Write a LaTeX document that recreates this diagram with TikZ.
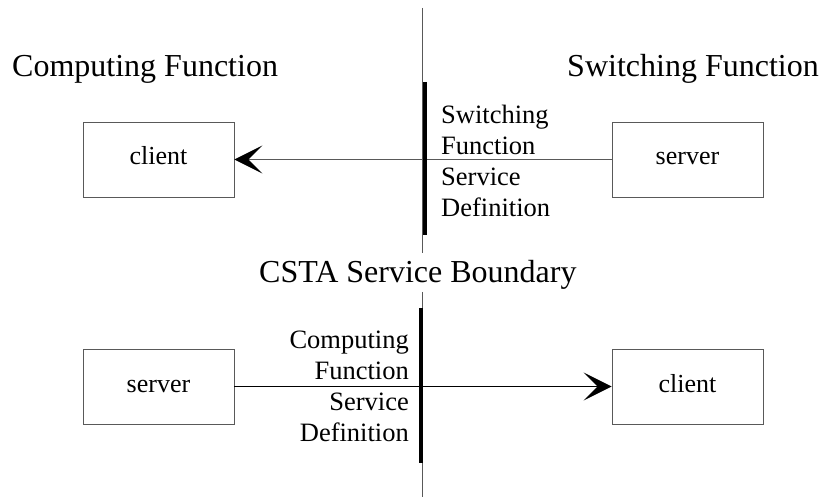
\documentclass[tikz,border=0pt]{standalone}
\usepackage{fontspec}
\setmainfont{Liberation Serif}
\usetikzlibrary{arrows.meta}
\begin{document}
\begin{tikzpicture}[x=1pt,y=-1pt,
  thinline/.style={draw=black!65,line width=0.9pt},
  box/.style={draw=black!65,line width=0.9pt,minimum width=151pt,minimum height=75pt,inner sep=0pt,text height=17pt,text depth=6pt,font=\fontsize{26}{30}\selectfont},
  title/.style={inner sep=0pt,font=\fontsize{32}{36}\selectfont},
  lbl/.style={inner sep=0pt,font=\fontsize{26.5}{31}\selectfont},
  bar/.style={draw=black,line width=4pt},
  tip/.style={-{Stealth[length=28pt,width=28pt,inset=14pt,black]}}]
\useasboundingbox (0,0) rectangle (825,497);
% central boundary
\coordinate (vtop) at (422.5,8);
\coordinate (gtop) at (422.5,253);
\coordinate (gbot) at (422.5,292);
\coordinate (vbot) at (422.5,497);
\draw[thinline] (vtop) -- (gtop);
\draw[thinline] (gbot) -- (vbot);
% titles
\node[title,anchor=base west] (cf) at (12,77) {Computing Function};
\node[title,anchor=base east] (sf) at (819,77) {Switching Function};
\node[title,anchor=base west] (csta) at (259,283) {CSTA Service Boundary};
% top part
\node[box] (c1) at (158.5,159.5) {client};
\node[box] (s1) at (687.5,159.5) {server};
\draw[thinline,tip] (s1.west) -- (c1.east);
\coordinate (b1t) at (425,82);
\coordinate (b1b) at (425,235);
\draw[bar] (b1t) -- (b1b);
\node[lbl,anchor=north west,align=left] (l1) at (441,105) {Switching\\Function\\Service\\Definition};
% bottom part
\node[box] (s2) at (158.5,386.5) {server};
\node[box] (c2) at (687.5,386.5) {client};
\draw[draw=black,line width=0.9pt,tip] (s2.east) -- (c2.west);
\coordinate (b2t) at (420.5,308);
\coordinate (b2b) at (420.5,463);
\draw[bar] (b2t) -- (b2b);
\node[lbl,anchor=north east,align=right] (l2) at (409,331) {Computing\\Function\\Service\\Definition};
\end{tikzpicture}
\end{document}
